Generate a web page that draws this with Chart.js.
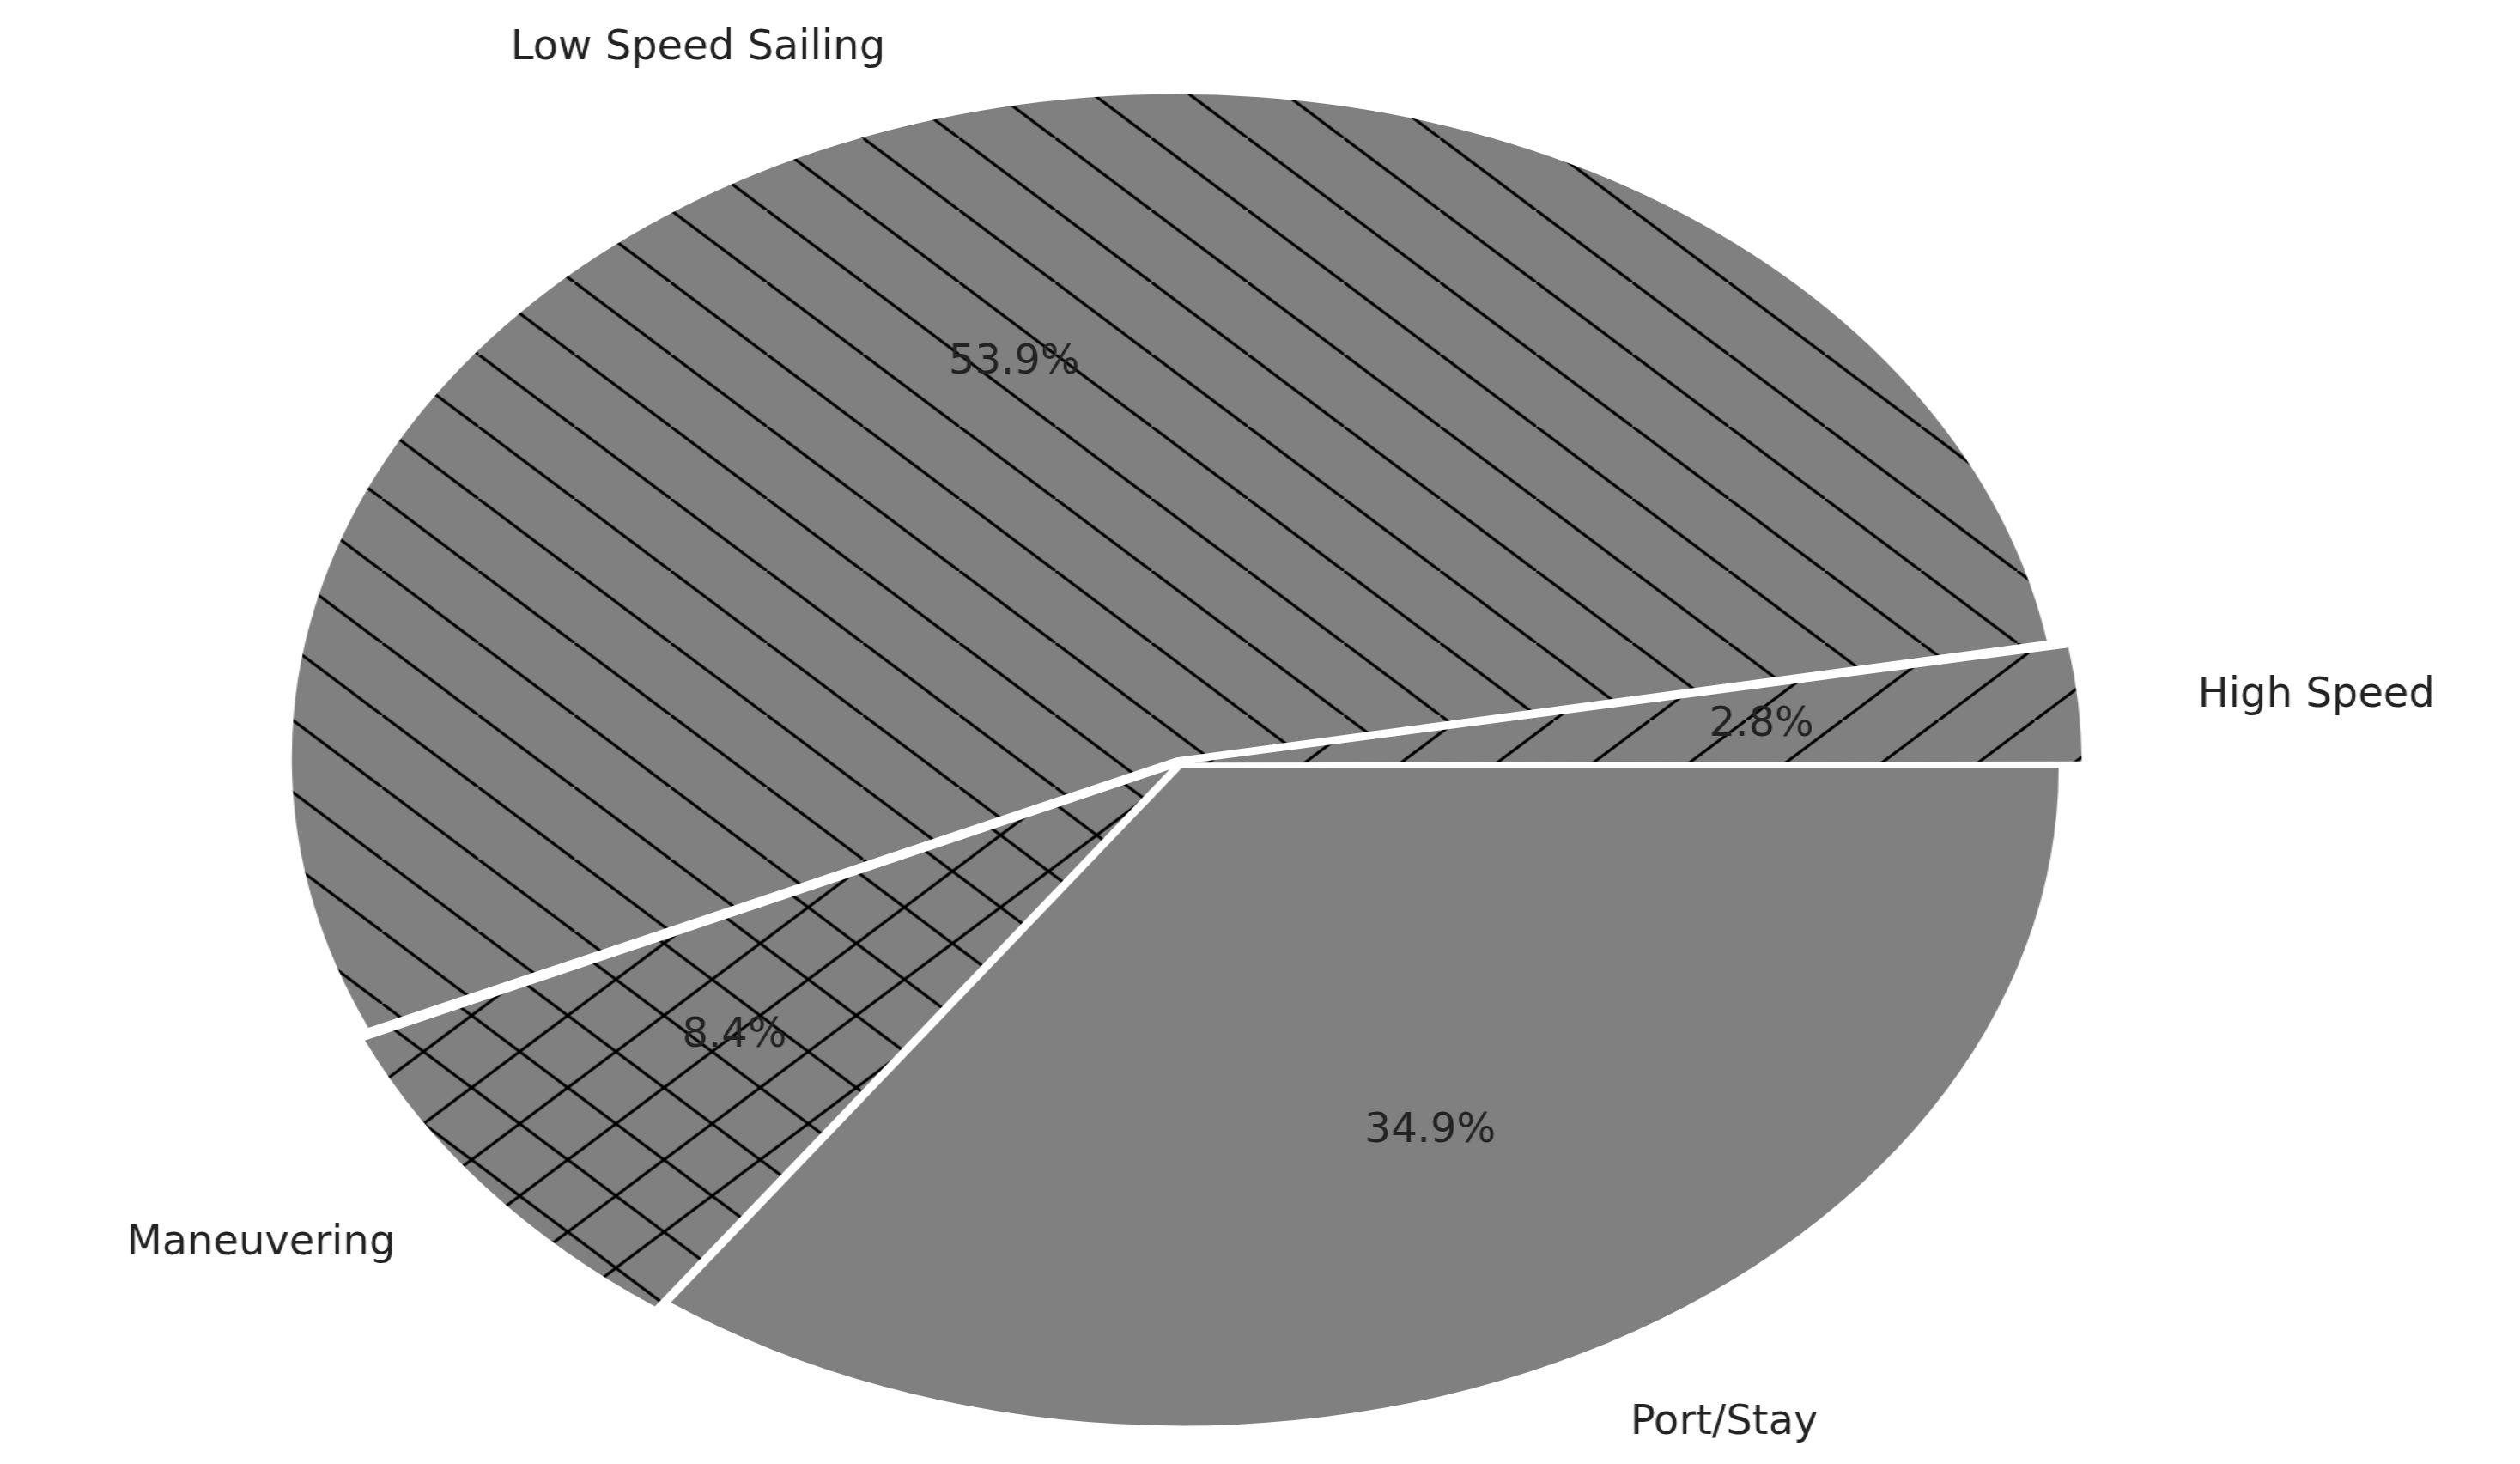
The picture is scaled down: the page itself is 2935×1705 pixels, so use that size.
<!DOCTYPE html>
<html>
<head>
<meta charset="utf-8">
<script src="https://cdn.jsdelivr.net/npm/chart.js@4.4.0/dist/chart.umd.min.js"></script>
<style>
  html, body { margin: 0; padding: 0; background: #fff; overflow: hidden; }
  #wrap { width: 2201px; height: 1705px; transform: scaleX(1.3335); transform-origin: 0 0; }
</style>
</head>
<body>
<div id="wrap"><canvas id="grafico" width="2201" height="1705"></canvas></div>
<script>
// datos (orden horario desde las 3 en punto)
const categorias = ['Port/Stay', 'Maneuvering', 'Low Speed Sailing', 'High Speed'];
const porcentajes = [34.9, 8.4, 53.9, 2.8];
const rayados = ['', '+', '\\', '/'];
const desplazamientos = [22, 42, 30, 52];

const ESTIRAR = 1.3335;

// Patron de rayado sobre fondo gris
function CrearRayado(tipo) {
    if (!tipo) return '#808080';
    const t = document.createElement('canvas');
    t.width = 84; t.height = 84;
    const c = t.getContext('2d');
    c.fillStyle = '#808080';
    c.fillRect(0, 0, 84, 84);
    c.strokeStyle = '#000';
    c.lineWidth = 3;
    c.beginPath();
    if (tipo === '\\') {
        c.moveTo(-10, -10); c.lineTo(94, 94);
    } else if (tipo === '/') {
        c.moveTo(-10, 94); c.lineTo(94, -10);
    } else if (tipo === '+') {
        c.moveTo(-10, -10); c.lineTo(94, 94);
        c.moveTo(-10, 94); c.lineTo(94, -10);
    }
    c.stroke();
    return c.createPattern(t, 'repeat');
}

// Etiquetas y porcentajes (texto sin estirar)
const etiquetasPlugin = {
    id: 'etiquetas',
    afterDraw(chart) {
        const ctx = chart.ctx;
        const arcos = chart.getDatasetMeta(0).data;
        ctx.save();
        ctx.fillStyle = '#222';
        ctx.font = '48px "DejaVu Sans"';
        arcos.forEach((arco, i) => {
            const medio = (arco.startAngle + arco.endAngle) / 2;
            const r = arco.outerRadius;
            const off = desplazamientos[i];
            const cx = arco.x + Math.cos(medio) * off;
            const cy = arco.y + Math.sin(medio) * off;
            const dibujar = (texto, px, py, alinear) => {
                ctx.save();
                ctx.translate(px, py);
                ctx.scale(1 / ESTIRAR, 1);
                ctx.textAlign = alinear;
                ctx.textBaseline = 'middle';
                ctx.fillText(texto, 0, 0);
                ctx.restore();
            };
            dibujar(porcentajes[i].toFixed(1) + '%', cx + Math.cos(medio) * r * 0.6, cy + Math.sin(medio) * r * 0.6, 'center');
            const lx = cx + Math.cos(medio) * r * 1.1;
            const ly = cy + Math.sin(medio) * r * 1.1;
            dibujar(categorias[i], lx, ly, Math.cos(medio) >= 0 ? 'left' : 'right');
        });
        ctx.restore();
    }
};

new Chart(document.getElementById('grafico'), {
    type: 'pie',
    data: {
        labels: categorias,
        datasets: [{
            data: porcentajes,
            backgroundColor: rayados.map(CrearRayado),
            borderWidth: 0,
            offset: desplazamientos,
            hoverOffset: 0
        }]
    },
    options: {
        responsive: false,
        animation: false,
        devicePixelRatio: 1,
        rotation: 90,
        radius: 765,
        layout: { padding: { left: 0, right: 142, top: 74, bottom: 0 } },
        events: [],
        plugins: { legend: { display: false }, tooltip: { enabled: false } }
    },
    plugins: [etiquetasPlugin]
});
</script>
</body>
</html>
